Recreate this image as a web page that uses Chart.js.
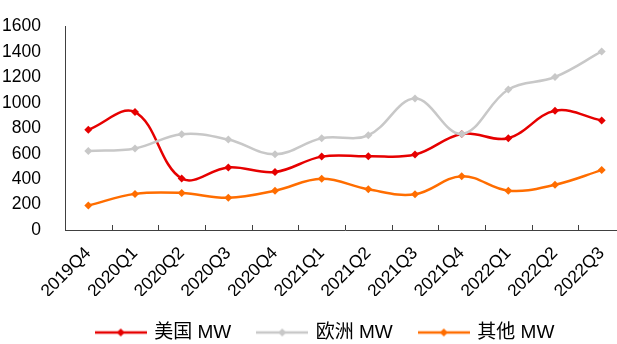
<!DOCTYPE html>
<html>
<head>
<meta charset="utf-8">
<script src="https://cdn.jsdelivr.net/npm/chart.js@4.4.1/dist/chart.umd.min.js"></script>
<style>
  html, body { margin: 0; padding: 0; background: #fff; overflow: hidden; }
  #wrap { width: 640px; height: 352px; }
</style>
</head>
<body>
<div id="wrap"><canvas id="installChart"></canvas></div>
<script>
const quarters = ["2019Q4", "2020Q1", "2020Q2", "2020Q3", "2020Q4", "2021Q1",
  "2021Q2", "2021Q3", "2021Q4", "2022Q1", "2022Q2", "2022Q3"];
const usMW = [788, 927, 405, 492, 456, 577, 580, 593, 755, 722, 938, 861];
const europeMW = [621, 641, 753, 711, 595, 722, 745, 1033, 755, 1105, 1203, 1404];
const otherMW = [193, 284, 291, 253, 309, 402, 320, 281, 423, 309, 356, 471];

const FONT = "'Liberation Sans', Arial, 'Noto Sans CJK SC', sans-serif";

// little legend marker: line with a diamond in the middle
const makeMarker = (color) => {
  const c = document.createElement("canvas");
  c.width = 52;
  c.height = 10;
  const g = c.getContext("2d");
  g.strokeStyle = color;
  g.lineWidth = 2.5;
  g.beginPath();
  g.moveTo(0, 5);
  g.lineTo(52, 5);
  g.stroke();
  g.fillStyle = color;
  g.beginPath();
  g.moveTo(26, 1);
  g.lineTo(30, 5);
  g.lineTo(26, 9);
  g.lineTo(22, 5);
  g.closePath();
  g.fill();
  return c;
};

// short inward tick marks between categories on the x axis
const xTicks = {
  id: "xTicks",
  afterLayout(chart) {
    // nudge the legend a bit right, it sits off-centre in the original
    if (chart.legend) chart.legend.left += 26;
  },
  afterDraw(chart) {
    const { ctx, scales } = chart;
    const x = scales.x;
    const y0 = scales.y.getPixelForValue(0);
    ctx.save();
    ctx.strokeStyle = "#404040";
    ctx.lineWidth = 1;
    for (let i = 1; i < quarters.length; i++) {
      const px = Math.round((x.getPixelForValue(i - 1) + x.getPixelForValue(i)) / 2) + 0.5;
      ctx.beginPath();
      ctx.moveTo(px, y0);
      ctx.lineTo(px, y0 - 5);
      ctx.stroke();
    }
    ctx.restore();
  },
};

const series = [
  { label: "美国 MW", data: usMW, color: "#E60000", order: 3 },
  { label: "欧洲 MW", data: europeMW, color: "#C8C8C8", order: 2 },
  { label: "其他 MW", data: otherMW, color: "#FF6D00", order: 1 },
];

new Chart(document.getElementById("installChart"), {
  type: "line",
  data: {
    labels: quarters,
    datasets: series.map((s) => ({
      label: s.label,
      data: s.data,
      borderColor: s.color,
      backgroundColor: s.color,
      borderWidth: 2.5,
      pointStyle: "rectRot",
      pointRadius: 4,
      pointBorderWidth: 0,
      tension: 0.38,
      order: s.order,
    })),
  },
  options: {
    responsive: true,
    maintainAspectRatio: false,
    animation: false,
    layout: { padding: { left: 0, right: 15, top: 1, bottom: 0 } },
    scales: {
      x: {
        offset: true,
        grid: { display: false },
        border: { color: "#404040", width: 1 },
        afterFit: (s) => { s.height = 66; },
        ticks: {
          color: "#000",
          font: { family: FONT, size: 17.5 },
          minRotation: 45,
          maxRotation: 45,
          padding: 5,
        },
      },
      y: {
        min: 0,
        max: 1600,
        grid: { display: false },
        border: { color: "#404040", width: 1 },
        afterFit: (s) => { s.width = 65; },
        ticks: {
          stepSize: 200,
          color: "#000",
          font: { family: FONT, size: 17.5 },
          padding: 16,
          callback: (v) => String(v),
        },
      },
    },
    plugins: {
      tooltip: { enabled: false },
      legend: {
        position: "bottom",
        labels: {
          usePointStyle: true,
          pointStyleWidth: 48,
          padding: 27,
          color: "#000",
          font: { family: FONT, size: 19 },
          generateLabels: (chart) =>
            chart.data.datasets.map((ds, i) => ({
              text: ds.label,
              datasetIndex: i,
              fontColor: "#000",
              pointStyle: makeMarker(ds.borderColor),
              fillStyle: ds.borderColor,
              strokeStyle: ds.borderColor,
              lineWidth: 0,
              hidden: false,
            })),
        },
      },
    },
  },
  plugins: [xTicks],
});
</script>
</body>
</html>
